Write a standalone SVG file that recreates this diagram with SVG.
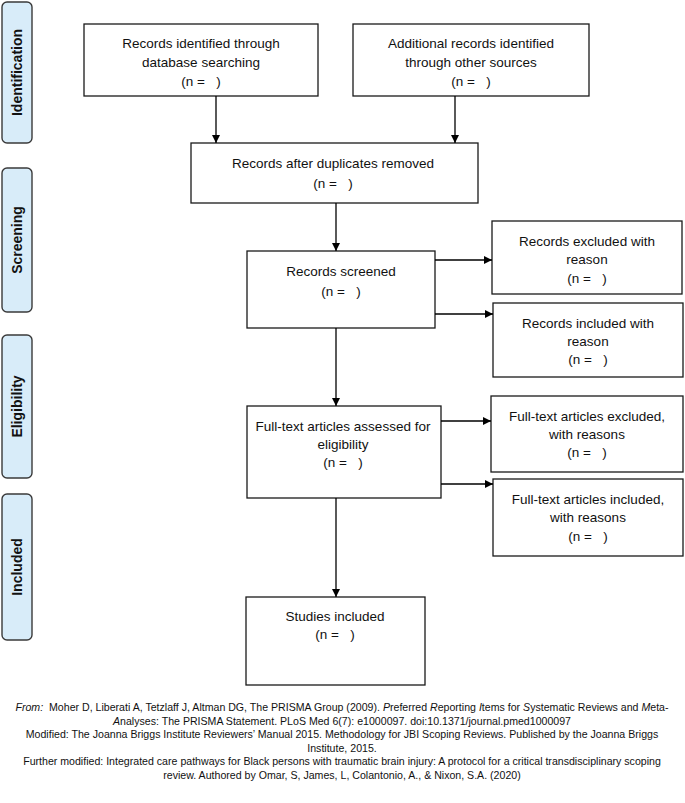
<svg xmlns="http://www.w3.org/2000/svg" width="685" height="803" viewBox="0 0 685 803">
<defs>
<marker id="ah" viewBox="0 0 10 10" refX="10" refY="5" markerWidth="8" markerHeight="8" markerUnits="userSpaceOnUse" orient="auto">
<path d="M0,0 L10,5 L0,10 z" fill="#000"/>
</marker>
<style>
.box{fill:#fff;stroke:#1a1a1a;stroke-width:1.3}
.lab{fill:#d8ecf9;stroke:#3a3a3a;stroke-width:1.4}
.t{font-family:"Liberation Sans",Arial,sans-serif;font-size:13.5px;fill:#111;text-anchor:middle;white-space:pre}
.lt{font-family:"Liberation Sans",Arial,sans-serif;font-size:14px;font-weight:bold;fill:#111;text-anchor:middle}
.f{font-family:"Liberation Sans",Arial,sans-serif;font-size:10.6px;fill:#111;text-anchor:middle;white-space:pre}
.c{stroke:#000;stroke-width:1.3;fill:none;marker-end:url(#ah)}
</style>
</defs>
<rect width="685" height="803" fill="#fff"/>

<g id="label-identification"><rect class="lab" x="2" y="2" width="30" height="141" rx="5"/><text class="lt" transform="translate(22,72.5) rotate(-90)">Identification</text></g>
<g id="label-screening"><rect class="lab" x="2" y="168" width="30" height="144" rx="5"/><text class="lt" transform="translate(22,240) rotate(-90)">Screening</text></g>
<g id="label-eligibility"><rect class="lab" x="2" y="335" width="30" height="143" rx="5"/><text class="lt" transform="translate(22,406.5) rotate(-90)">Eligibility</text></g>
<g id="label-included"><rect class="lab" x="2" y="494" width="30" height="146" rx="5"/><text class="lt" transform="translate(22,567) rotate(-90)">Included</text></g>

<g id="n-db"><rect class="box" x="84" y="24" width="234" height="72"/><text class="t" x="201" y="48">Records identified through</text><text class="t" x="201" y="67">database searching</text><text class="t" x="201" y="86">(n =   )</text></g>
<g id="n-other"><rect class="box" x="353" y="24" width="236" height="72"/><text class="t" x="471" y="48">Additional records identified</text><text class="t" x="471" y="67">through other sources</text><text class="t" x="471" y="86">(n =   )</text></g>
<g id="n-dup"><rect class="box" x="191" y="143" width="287" height="60"/><text class="t" x="333" y="168">Records after duplicates removed</text><text class="t" x="333" y="188">(n =   )</text></g>
<g id="n-screened"><rect class="box" x="247" y="251" width="188" height="77"/><text class="t" x="341" y="276">Records screened</text><text class="t" x="341" y="296">(n =   )</text></g>
<g id="n-excl"><rect class="box" x="492" y="221" width="190" height="73"/><text class="t" x="587" y="246">Records excluded with</text><text class="t" x="587" y="264">reason</text><text class="t" x="587" y="283">(n =   )</text></g>
<g id="n-incl"><rect class="box" x="493" y="303" width="190" height="74"/><text class="t" x="588" y="328">Records included with</text><text class="t" x="588" y="346">reason</text><text class="t" x="588" y="364">(n =   )</text></g>
<g id="n-ft"><rect class="box" x="247" y="406" width="194" height="92"/><text class="t" x="343" y="431">Full-text articles assessed for</text><text class="t" x="343" y="449">eligibility</text><text class="t" x="343" y="467">(n =   )</text></g>
<g id="n-ftexcl"><rect class="box" x="491" y="396" width="192" height="76"/><text class="t" x="587" y="421">Full-text articles excluded,</text><text class="t" x="587" y="439">with reasons</text><text class="t" x="587" y="457">(n =   )</text></g>
<g id="n-ftincl"><rect class="box" x="493" y="479" width="190" height="77"/><text class="t" x="588" y="504">Full-text articles included,</text><text class="t" x="588" y="522">with reasons</text><text class="t" x="588" y="541">(n =   )</text></g>
<g id="n-studies"><rect class="box" x="246" y="597" width="179" height="88"/><text class="t" x="335" y="621">Studies included</text><text class="t" x="335" y="639">(n =   )</text></g>

<g id="connectors">
<line class="c" x1="216" y1="96" x2="216" y2="143"/>
<line class="c" x1="455" y1="96" x2="455" y2="143"/>
<line class="c" x1="336" y1="203" x2="336" y2="251"/>
<line class="c" x1="435" y1="260" x2="492" y2="260"/>
<line class="c" x1="435" y1="314" x2="493" y2="314"/>
<line class="c" x1="336" y1="328" x2="336" y2="406"/>
<line class="c" x1="441" y1="421" x2="491" y2="421"/>
<line class="c" x1="441" y1="484" x2="493" y2="484"/>
<line class="c" x1="336" y1="498" x2="336" y2="597"/>
</g>

<g id="footer">
<text class="f" x="342" y="711"><tspan font-style="italic">From:</tspan>  Moher D, Liberati A, Tetzlaff J, Altman DG, The PRISMA Group (2009). <tspan font-style="italic">P</tspan>referred <tspan font-style="italic">R</tspan>eporting <tspan font-style="italic">I</tspan>tems for <tspan font-style="italic">S</tspan>ystematic Reviews and <tspan font-style="italic">M</tspan>eta-</text>
<text class="f" x="342" y="724.5"><tspan font-style="italic">A</tspan>nalyses: The PRISMA Statement. PLoS Med 6(7): e1000097. doi:10.1371/journal.pmed1000097</text>
<text class="f" x="342" y="738">Modified: The Joanna Briggs Institute Reviewers’ Manual 2015. Methodology for JBI Scoping Reviews. Published by the Joanna Briggs</text>
<text class="f" x="342" y="751.5">Institute, 2015.</text>
<text class="f" x="342" y="765">Further modified: Integrated care pathways for Black persons with traumatic brain injury: A protocol for a critical transdisciplinary scoping</text>
<text class="f" x="342" y="778.5">review. Authored by Omar, S, James, L, Colantonio, A., &amp; Nixon, S.A. (2020)</text>
</g>
</svg>
